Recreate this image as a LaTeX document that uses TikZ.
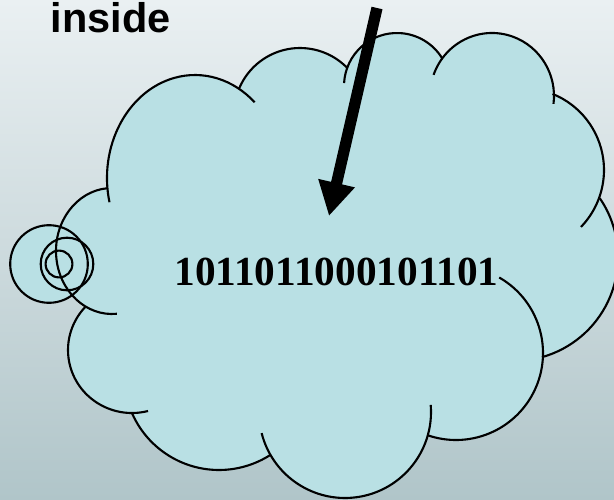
\documentclass[tikz,border=0pt]{standalone}
\usepackage{fontspec}
\setmainfont{Liberation Serif}
\newfontfamily\labelfont{Liberation Sans}
\usetikzlibrary{calc}
\usetikzlibrary{arrows.meta}
\definecolor{bgtop}{RGB}{234,240,242}
\definecolor{bgbottom}{RGB}{176,197,201}
\definecolor{cloudcyan}{RGB}{185,224,228}
\tikzset{
    cloudfill/.style = {fill=cloudcyan},
    cloudline/.style = {draw=black, line width=1.5pt},
    bubblefill/.style = {circle, fill=cloudcyan, inner sep=0pt},
    bubbleline/.style = {circle, draw=black, line width=1.5pt, inner sep=0pt},
    pointer/.style = {draw=black, line width=8pt, -{Triangle[width=25pt,length=24pt]}},
    bitstext/.style = {inner sep=0pt, font=\bfseries\fontsize{29.4}{34}\selectfont},
    captiontext/.style = {inner sep=0pt, font=\labelfont\bfseries\fontsize{29.5}{34}\selectfont}
}
% lobe: cx/cy/rx/ry/stroke start/fill start/fill end/stroke end
\def\lobelist{195/178/88/103/166.4/174.5/299.2/312.7,
    300/114/66/66/202.8/202.8/316.2/316.2,
    397/86/53/53/183.2/200.2/328.1/328.1,
    492/96/62/63/199.6/216.8/357.3/367.2,
    522/170/82/82/291.9/291.9/379.7/404,
    514/257/104/104/325.5/325.5/434.4/434.4,
    456/353/87/87/299.8/362.7/468.9/468.9,
    345/412/86/86/-4.7/15.7/150.2/165.8,
    219/375/95/95/57.5/57.5/156.4/156.4,
    132/350/64/63/75.5/90/223/223,
    112/251/56/63/85/118.5/265/265}
\def\bubblelist{big/49/1.94cm, mid/67/1.315cm, small/59/0.67cm}
\begin{document}
\begin{tikzpicture}[x=0.025cm, y=-0.025cm]
  \useasboundingbox (0,0) rectangle (614,500);
  \clip (0,0) rectangle (614,500);
  \shade[top color=bgtop, bottom color=bgbottom] (0,0) rectangle (614,500);

  % cloud body
  \fill[cloudfill] (107.4,187.9)
    \foreach \cx/\cy/\rx/\ry/\sa/\fa/\fb/\sb in \lobelist {
      -- ($(\cx,\cy)+({\rx*cos(\fa)},{\ry*sin(\fa)})$)
      arc[start angle=\fa, end angle=\fb, x radius=\rx, y radius=\ry]
    } -- cycle;

  % thought bubbles
  \foreach \name/\x/\d in \bubblelist
    \node[bubblefill, minimum size=\d] (\name) at (\x,264) {};
  \foreach \name/\x/\d in \bubblelist
    \node[bubbleline, minimum size=\d] (\name-rim) at (\name.center) {};

  % cloud outline
  \foreach \cx/\cy/\rx/\ry/\sa/\fa/\fb/\sb in \lobelist
    \draw[cloudline] ($(\cx,\cy)+({\rx*cos(\sa)},{\ry*sin(\sa)})$)
      arc[start angle=\sa, end angle=\sb, x radius=\rx, y radius=\ry];

  \node[captiontext, anchor=base west] (caption) at (50.4,33) {inside};
  \node[bitstext, anchor=base] (bits) at (336.5,285) {1011011000101101};

  \coordinate (arrowtail) at (377,8);
  \coordinate (arrowtip) at (329,216);
  \draw[pointer] (arrowtail) -- (arrowtip);
\end{tikzpicture}
\end{document}
